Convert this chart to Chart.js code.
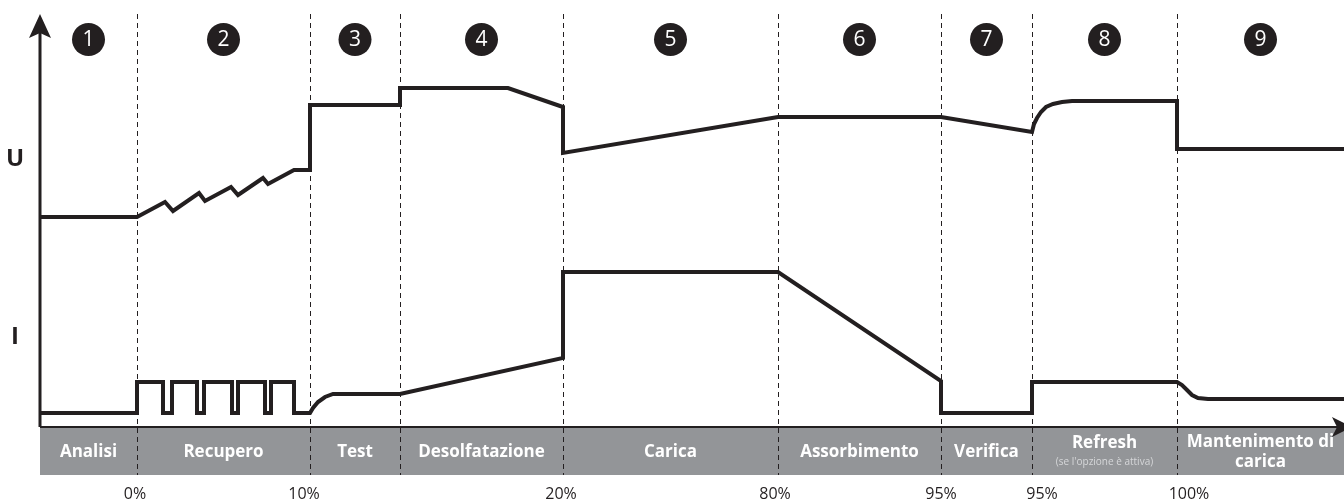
<!DOCTYPE html>
<html>
<head>
<meta charset="utf-8">
<script src="https://cdn.jsdelivr.net/npm/chart.js@4/dist/chart.umd.min.js"></script>
<style>
html,body{margin:0;padding:0;background:#fff;}
canvas{display:block;}
</style>
</head>
<body>
<canvas id="c" width="1344" height="501"></canvas>
<script>
// ---- Data (time units along the axis, level units above the axis) ----
const uTime  = [0,97,125,133,159,165,191,198,223,228,254,270,270,360,360,468,523,523,738,901,992,994,997,1001,1006,1013,1022,1032,1137,1137,1304];
const uLevel = [210,210,225,216,234,226,240,232,249,243,257,257,322,322,339,339,320,274,310,310,295,303,309,315,320,323,325,326,326,278,278];

const iTime  = [0,97,97,123,123,132,132,157,157,164,164,192,192,198,198,225,225,231,231,254,254,270,273,278,285,293,360,523,523,738,901,901,992,992,1137,1142,1147,1152,1158,1168,1304];
const iLevel = [14,14,45,45,14,14,45,45,14,14,45,45,14,14,45,45,14,14,45,45,14,14,19,25,30,33,33,69,155,155,46,14,14,45,45,42,37,32,29,28,28];

const phaseBounds = [97,270,360,523,738,901,992,1137];
const phaseNumbers = ['1','2','3','4','5','6','7','8','9'];
const phaseLabels = ['Analisi','Recupero','Test','Desolfatazione','Carica','Assorbimento','Verifica','Refresh','Mantenimento di\ncarica'];
const phaseSubLabels = ['','','','','','','','(se l\'opzione è attiva)',''];

const tickLabels = ['0%','10%','20%','80%','95%','95%','100%'];
const tickPositions = [95,264,521,735,901,1002,1149];

const axisLabels = ['U','I'];
const axisLabelLevels = [268,90];

const INK = '#231f20';
const BAND = '#939598';

function pts(xs, ys){ return xs.map((v,k)=>({x:v, y:ys[k]})); }

const overlay = {
  id:'overlay',
  beforeDatasetsDraw(chart){
    const {ctx, chartArea:a, scales:{x,y}} = chart;
    const bandH = 48;
    const bounds = [x.min, ...phaseBounds, x.max];
    ctx.save();
    // grey band
    ctx.fillStyle = BAND;
    ctx.fillRect(a.left, a.bottom, a.right - a.left, bandH);
    // dashed phase separators
    ctx.strokeStyle = INK; ctx.lineWidth = 1; ctx.setLineDash([5,4]);
    phaseBounds.forEach(b=>{
      const px = Math.round(x.getPixelForValue(b)) + 0.5;
      ctx.beginPath(); ctx.moveTo(px, a.top); ctx.lineTo(px, a.bottom + bandH); ctx.stroke();
    });
    ctx.setLineDash([]);
    // vertical axis
    ctx.strokeStyle = INK; ctx.lineWidth = 3;
    ctx.beginPath(); ctx.moveTo(a.left, a.top + 14); ctx.lineTo(a.left, a.bottom); ctx.stroke();
    ctx.fillStyle = INK;
    ctx.beginPath();
    ctx.moveTo(a.left, a.top);
    ctx.lineTo(a.left + 11, a.top + 24);
    ctx.lineTo(a.left, a.top + 19);
    ctx.lineTo(a.left - 11, a.top + 24);
    ctx.closePath(); ctx.fill();
    // horizontal axis
    ctx.lineWidth = 2;
    ctx.beginPath(); ctx.moveTo(a.left, a.bottom); ctx.lineTo(a.right - 5, a.bottom); ctx.stroke();
    ctx.beginPath();
    ctx.moveTo(a.right + 8, a.bottom);
    ctx.lineTo(a.right - 12, a.bottom - 10);
    ctx.lineTo(a.right - 7, a.bottom);
    ctx.lineTo(a.right - 12, a.bottom + 10);
    ctx.closePath(); ctx.fill();
    // band labels
    ctx.textAlign = 'center'; ctx.textBaseline = 'middle';
    const bandMid = a.bottom + bandH/2 + 1;
    phaseLabels.forEach((lab,k)=>{
      const cx = (x.getPixelForValue(bounds[k]) + x.getPixelForValue(bounds[k+1]))/2;
      const lines = lab.split('\n');
      ctx.fillStyle = '#ffffff';
      ctx.font = 'bold 17px "Open Sans", sans-serif';
      if (phaseSubLabels[k]) {
        ctx.fillText(lines[0], cx, bandMid - 9);
        ctx.fillStyle = '#d6d7d9';
        ctx.font = '10px "Open Sans", sans-serif';
        ctx.fillText(phaseSubLabels[k], cx, bandMid + 10);
      } else if (lines.length === 2) {
        ctx.fillText(lines[0], cx, bandMid - 10);
        ctx.fillText(lines[1], cx, bandMid + 10);
      } else {
        ctx.fillText(lines[0], cx, bandMid);
      }
    });
    // percent tick labels
    ctx.fillStyle = INK;
    ctx.font = '16px "Open Sans", sans-serif';
    tickLabels.forEach((t,k)=>{
      ctx.fillText(t, x.getPixelForValue(tickPositions[k]), a.bottom + bandH + 19);
    });
    // numbered circles
    phaseNumbers.forEach((n,k)=>{
      const cx = (x.getPixelForValue(bounds[k]) + x.getPixelForValue(bounds[k+1]))/2;
      const cy = a.top + 25.5;
      ctx.fillStyle = INK;
      ctx.beginPath(); ctx.arc(cx, cy, 16.5, 0, Math.PI*2); ctx.fill();
      ctx.fillStyle = '#ffffff';
      ctx.font = '21px "Open Sans", sans-serif';
      ctx.fillText(n, cx, cy + 1);
    });
    // axis letters
    ctx.fillStyle = INK;
    ctx.font = 'bold 24px "Open Sans", sans-serif';
    axisLabels.forEach((t,k)=>{
      ctx.fillText(t, a.left - 25, y.getPixelForValue(axisLabelLevels[k]));
    });
    ctx.restore();
  }
};

new Chart(document.getElementById('c'), {
  type:'line',
  data:{
    datasets:[
      {label:'U', data:pts(uTime,uLevel)},
      {label:'I', data:pts(iTime,iLevel)}
    ].map(d=>Object.assign(d,{
      borderColor:INK, borderWidth:4, pointRadius:0, tension:0,
      borderJoinStyle:'miter', borderCapStyle:'butt', fill:false, clip:false
    }))
  },
  options:{
    responsive:false, animation:false,
    layout:{padding:{left:40, right:0, top:14, bottom:74}},
    plugins:{legend:{display:false}, tooltip:{enabled:false}},
    scales:{
      x:{type:'linear', display:false, min:0, max:1304},
      y:{type:'linear', display:false, min:0, max:413}
    }
  },
  plugins:[overlay]
});
</script>
</body>
</html>
